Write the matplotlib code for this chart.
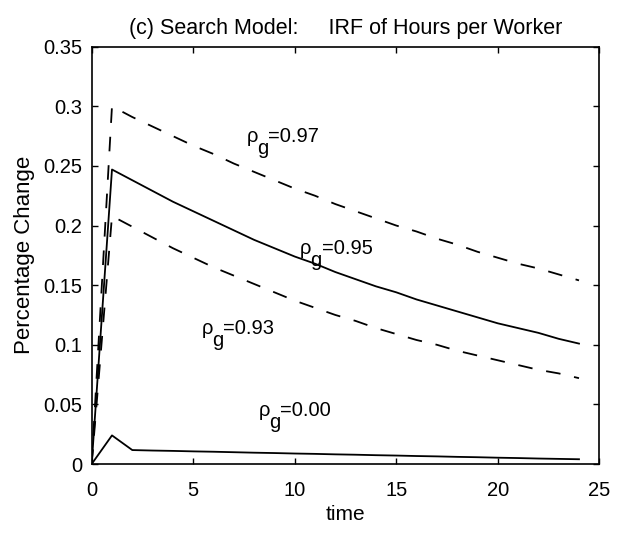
import numpy as np
import matplotlib
matplotlib.use("Agg")
import matplotlib.pyplot as plt

plt.rcParams['font.family'] = ['Liberation Sans', 'DejaVu Sans']
plt.rcParams['lines.scale_dashes'] = False

# -------------------- data --------------------
time = np.arange(0, 25)

irf_097 = [0.0, 0.300, 0.291, 0.283, 0.275, 0.267, 0.260, 0.252, 0.245, 0.238,
           0.231, 0.225, 0.218, 0.212, 0.206, 0.200, 0.195, 0.189, 0.184, 0.178,
           0.173, 0.168, 0.164, 0.159, 0.154]
irf_095 = [0.0, 0.247, 0.238, 0.229, 0.220, 0.212, 0.204, 0.196, 0.188, 0.181,
           0.174, 0.168, 0.161, 0.155, 0.149, 0.144, 0.138, 0.133, 0.128, 0.123,
           0.118, 0.114, 0.110, 0.105, 0.101]
irf_093 = [0.0, 0.208, 0.199, 0.190, 0.181, 0.173, 0.165, 0.158, 0.151, 0.144,
           0.137, 0.131, 0.125, 0.120, 0.114, 0.109, 0.104, 0.100, 0.095, 0.091,
           0.087, 0.083, 0.079, 0.076, 0.072]
irf_000 = [0.0, 0.024, 0.0117, 0.0113, 0.0110, 0.0106, 0.0103, 0.0099, 0.0095, 0.0092,
           0.0088, 0.0085, 0.0081, 0.0078, 0.0074, 0.0071, 0.0067, 0.0064, 0.0060, 0.0057,
           0.0053, 0.0050, 0.0046, 0.0043, 0.0040]

rho_labels = ["0.97", "0.95", "0.93", "0.00"]
label_pos = [(7.64, 0.270), (10.26, 0.176), (5.42, 0.109), (8.21, 0.0405)]

# -------------------- plot --------------------
fig = plt.figure(figsize=(6.22, 5.36), dpi=100)
ax = fig.add_axes([0.1474, 0.1343, 0.8161, 0.7786])

dash = (0, (10.5, 10))
ax.plot(time, irf_097, color='black', lw=1.3, linestyle=dash)
ax.plot(time, irf_095, color='black', lw=1.3)
ax.plot(time, irf_093, color='black', lw=1.3, linestyle=dash)
ax.plot(time, irf_000, color='black', lw=1.3)

fs = 14.5
for lab, (x, y) in zip(rho_labels, label_pos):
    ax.annotate("ρ", (x, y), fontsize=fs, va='baseline', ha='left')
    ax.annotate("g", (x, y), xytext=(7.5, -8.5), textcoords='offset points',
                fontsize=fs, va='baseline', ha='left')
    ax.annotate("=" + lab, (x, y), xytext=(15.5, 0), textcoords='offset points',
                fontsize=fs, va='baseline', ha='left')

ax.set_xlim(0, 25)
ax.set_ylim(0, 0.35)
ax.set_xticks([0, 5, 10, 15, 20, 25])
ax.set_yticks([0, 0.05, 0.1, 0.15, 0.2, 0.25, 0.3, 0.35])
ax.set_yticklabels(["0", "0.05", "0.1", "0.15", "0.2", "0.25", "0.3", "0.35"])
ax.tick_params(direction='in', top=True, right=True, length=4.5, width=1,
               labelsize=fs)
ax.tick_params(axis='x', pad=12)
ax.tick_params(axis='y', pad=7)
for s in ax.spines.values():
    s.set_linewidth(1.2)

ax.set_title("(c) Search Model:     IRF of Hours per Worker", fontsize=15.5, pad=9)
ax.set_xlabel("time", fontsize=15)
ax.set_ylabel("Percentage Change", fontsize=16, labelpad=6)

fig.savefig("out.png", dpi=100)
